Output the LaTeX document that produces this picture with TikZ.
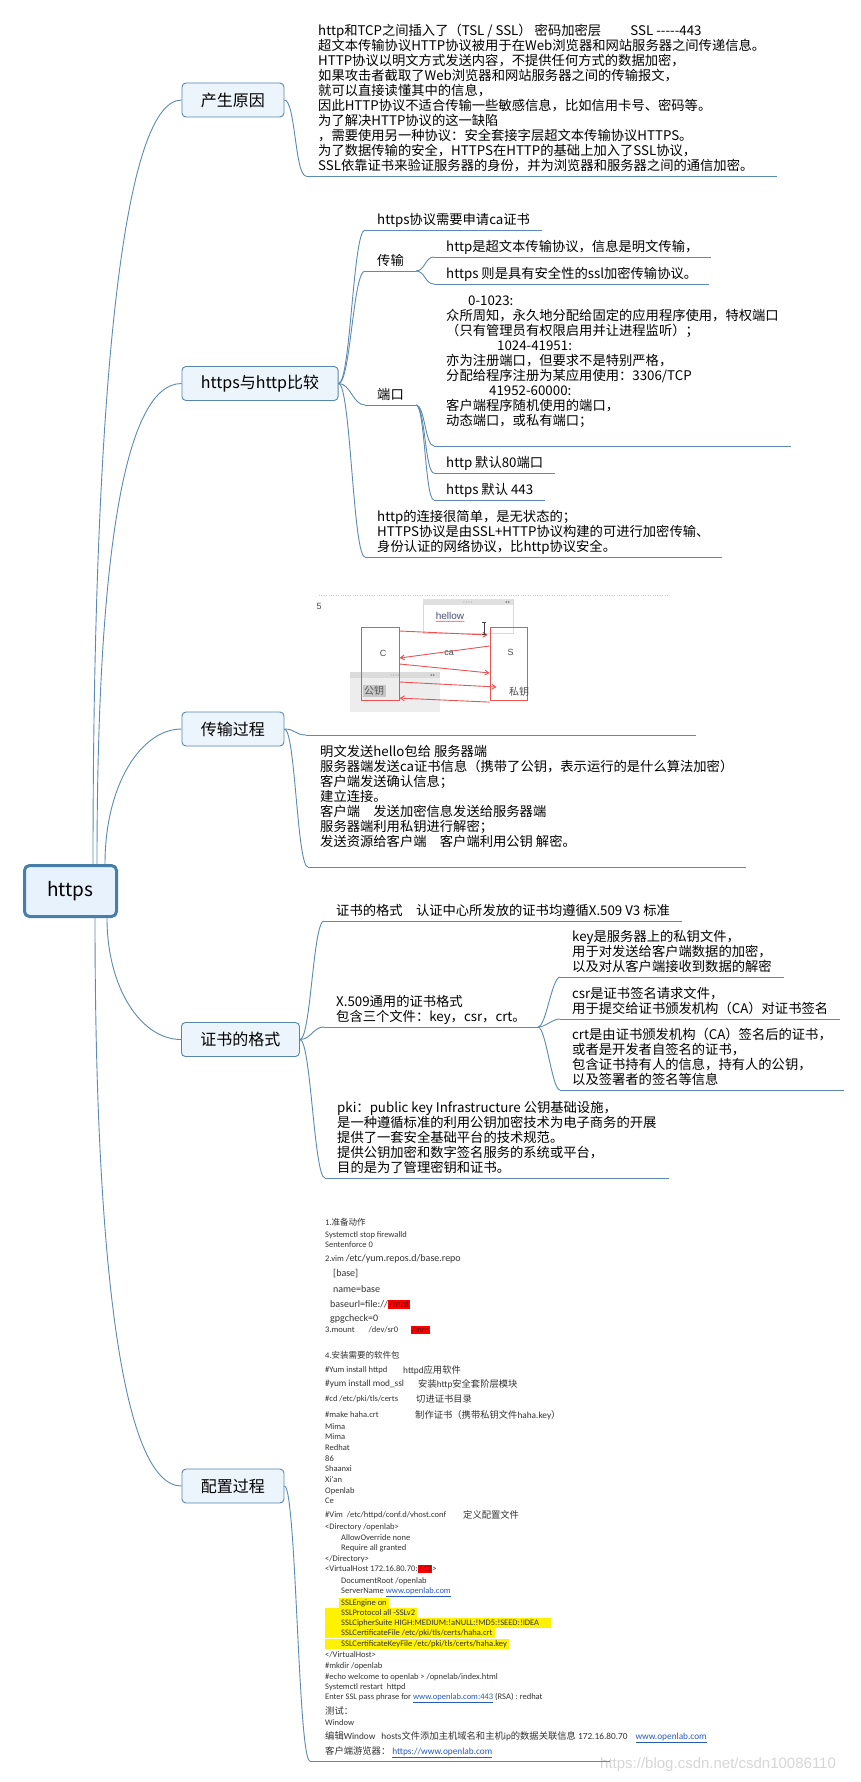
\documentclass[tikz,border=0pt]{standalone}
\usepackage{fontspec}
\setmainfont{Noto Sans CJK SC}
\newfontfamily\cjkfont{Noto Sans CJK SC}
\newfontfamily\cfgfont{Carlito}
\newfontfamily\markfont{Liberation Sans}
\usetikzlibrary{arrows.meta, calc, decorations.pathmorphing}

\definecolor{linkcol}{RGB}{92,138,178}
\definecolor{boxline}{RGB}{86,134,176}
\definecolor{boxfill}{RGB}{236,244,252}
\definecolor{rootline}{RGB}{72,127,168}
\definecolor{rootfill}{RGB}{232,242,252}
\definecolor{imgred}{RGB}{232,84,84}
\definecolor{hellocol}{RGB}{70,80,120}
\definecolor{linkblue}{RGB}{40,90,190}

\newcommand{\zhtext}[1]{{\cjkfont #1}}
\newcommand{\redmark}[1]{{\setlength{\fboxsep}{0.8pt}\colorbox{red}{\textcolor{red!45!black}{#1}}}}
\newcommand{\weblink}[1]{\textcolor{linkblue}{\underline{#1}}}
\newcommand{\cfglarge}{\fontsize{10}{11}\selectfont}
\newcommand{\cfgmid}{\fontsize{9.3}{10}\selectfont}

\begin{document}
\begin{tikzpicture}[x=1pt, y=-1pt,
		% boxes of the map
		rootbox/.style={draw=rootline, fill=rootfill, line width=3pt, rounded corners=5pt,
			minimum width=92pt, minimum height=51pt, font=\fontsize{19}{21}\selectfont},
		topic/.style={draw=boxline, fill=boxfill, line width=0.9pt, rounded corners=4pt,
			minimum height=34pt, inner xsep=19pt, anchor=west, font=\fontsize{16}{18}\selectfont},
		leaf/.style={anchor=south west, align=left, inner xsep=12pt, inner ysep=2pt,
			text depth=3pt, font=\fontsize{13.3}{15}\selectfont},
		% connectors
		branch/.style={draw=linkcol, line width=0.9pt},
		link/.style={to path={.. controls ($(\tikztostart)+(#1,0)$) and ($(\tikztotarget)+(-#1,0)$) .. (\tikztotarget)}},
		rootlink/.style 2 args={to path={.. controls ($(\tikztostart)+(0,#1)$) and ($(\tikztotarget)+(-#2,0)$) .. (\tikztotarget)}},
		% screenshot parts
		shot/.style={anchor=south west, inner sep=0pt},
		imgbox/.style={draw=imgred, line width=1.1pt, inner sep=0pt, anchor=north west},
		imgtxt/.style={inner sep=0pt, font=\markfont\fontsize{9}{10}\selectfont, text=black!70},
		imgarrow/.style={draw=imgred, line width=0.9pt, -{Straight Barb[length=4pt,width=5pt]}},
		cfgline/.style={anchor=west, inner sep=0pt, text=black!80, font=\cfgfont\fontsize{8.5}{9.5}\selectfont},
		cfgmark/.style={cfgline, fill=yellow, minimum height=10.6pt}
		]
		
		\fill[white] (0,0) rectangle (860,1782);
		\useasboundingbox (0,0) rectangle (860,1782);
		
		% --- ROOT AND MAIN TOPICS ---
		\node[rootbox] (root) at (70.5,891) {https};
		\node[topic] (cause) at (181.5,100) {产生原因};
		\node[topic] (cmp) at (181.5,383.5) {https与http比较};
		\node[topic] (trans) at (181.5,729) {传输过程};
		\node[topic] (cert) at (181,1039.5) {证书的格式};
		\node[topic] (conf) at (181.5,1486) {配置过程};
		
		\coordinate (rA) at ([xshift=22.5pt]root.north);
		\coordinate (rB) at ([xshift=26.5pt]root.north);
		\coordinate (rC) at ([xshift=34.5pt]root.north);
		\coordinate (rD) at ([xshift=36.5pt]root.south);
		\coordinate (rE) at ([xshift=24.5pt]root.south);
		\draw[branch] (rA) to[rootlink={-460}{60}] (cause.west);
		\draw[branch] (rB) to[rootlink={-290}{60}] (cmp.west);
		\draw[branch] (rC) to[rootlink={-80}{40}] (trans.west);
		\draw[branch] (rD) to[rootlink={70}{40}] (cert.west);
		\draw[branch] (rE) to[rootlink={340}{60}] (conf.west);
		
		% --- 1. CAUSE ---
		\node[leaf] (c1) at (306,176) {http和TCP之间插入了（TSL / SSL） 密码加密层\hspace{2.2em}SSL -{}-{}-{}-{}-443\\
			超文本传输协议HTTP协议被用于在Web浏览器和网站服务器之间传递信息。\\
			HTTP协议以明文方式发送内容，不提供任何方式的数据加密，\\
			如果攻击者截取了Web浏览器和网站服务器之间的传输报文，\\
			就可以直接读懂其中的信息，\\
			因此HTTP协议不适合传输一些敏感信息，比如信用卡号、密码等。\\
			为了解决HTTP协议的这一缺陷\\
			，需要使用另一种协议：安全套接字层超文本传输协议HTTPS。\\
			为了数据传输的安全，HTTPS在HTTP的基础上加入了SSL协议，\\
			SSL依靠证书来验证服务器的身份，并为浏览器和服务器之间的通信加密。};
		\draw[branch] (cause.east) to[link=11] (c1.south west);
		
		% --- 2. HTTPS VS HTTP ---
		\node[leaf] (h1) at (365,230) {https协议需要申请ca证书};
		\node[leaf] (h2) at (365,271) {传输};
		\node[leaf] (h21) at (434,257) {http是超文本传输协议，信息是明文传输，};
		\node[leaf] (h22) at (434,284) {https 则是具有安全性的ssl加密传输协议。};
		\node[leaf] (h3) at (365,405) {端口};
		\node[leaf] (h31) at (434,446) {\hspace*{22pt}0-1023:\\
			众所周知，永久地分配给固定的应用程序使用，特权端口\\
			（只有管理员有权限启用并让进程监听）；\\
			\hspace*{51pt}1024-41951:\\
			亦为注册端口，但要求不是特别严格，\\
			分配给程序注册为某应用使用：3306/TCP\\
			\hspace*{43pt}41952-60000:\\
			客户端程序随机使用的端口，\\
			动态端口，或私有端口；\\
			~};
		\node[leaf] (h32) at (434,473) {http 默认80端口};
		\node[leaf] (h33) at (434,500) {https 默认 443};
		\node[leaf] (h4) at (365,557) {http的连接很简单，是无状态的；\\
			HTTPS协议是由SSL+HTTP协议构建的可进行加密传输、\\
			身份认证的网络协议，比http协议安全。};
		\foreach \n in {h1,h2,h3,h4} \draw[branch] (cmp.east) to[link=12] (\n.south west);
		\foreach \n in {h21,h22} \draw[branch] (h2.south east) to[link=9] (\n.south west);
		\foreach \n in {h31,h32,h33} \draw[branch] (h3.south east) to[link=9] (\n.south west);
		
		% --- 3. TRANSFER: screenshot of the handshake ---
		\node[shot, minimum width=390pt, minimum height=140pt] (t1) at (306,735) {};
		\draw[black!22, dotted] (319,595) -- (668,595);
		\node[imgtxt] (five) at (319,606) {5};
		\node[draw=black!15, fill=white, minimum width=89.5pt, minimum height=34pt, inner sep=0pt, anchor=north west] (hwin) at (423,599) {};
		\fill[black!12] (hwin.north west) rectangle ($(hwin.north east)+(0,6)$);
		\foreach \i in {0,...,3} \fill[black!45] ($(hwin.north)+(-4+\i*2.5,3)$) circle (0.5pt);
		\fill[black!45] (505,602) -- (507,600.8) -- (507,603.2) -- cycle;
		\fill[black!45] (510,602) -- (508,600.8) -- (508,603.2) -- cycle;
		\node[imgtxt, text=hellocol, font=\markfont\fontsize{10}{11}\selectfont] (hello) at (450,616) {hellow};
		\draw[imgred, decorate, decoration={snake, amplitude=0.5pt, segment length=2.2pt}] ($(hello.south west)+(0,1.5)$) -- ($(hello.south east)+(0,1.5)$);
		\node[fill=black!7, minimum width=90pt, minimum height=40pt, inner sep=0pt, anchor=north west] (kwin) at (350,672) {};
		\fill[black!14] (kwin.north west) rectangle ($(kwin.north east)+(0,6)$);
		\foreach \i in {0,...,3} \fill[black!45] ($(kwin.north)+(-4+\i*2.5,3)$) circle (0.5pt);
		\fill[black!45] (430,675) -- (432,673.8) -- (432,676.2) -- cycle;
		\fill[black!45] (435,675) -- (433,673.8) -- (433,676.2) -- cycle;
		\node[imgbox, minimum width=37.5pt, minimum height=73pt] (cbox) at (361,627) {};
		\node[imgbox, minimum width=37pt, minimum height=73pt] (sbox) at (489.6,627) {};
		\node[fill=black!22, inner sep=1.5pt, text=black!65, font=\fontsize{10}{11}\selectfont] (pub) at (374,691) {公钥};
		\node[imgtxt] (cl) at (383,653) {C};
		\node[imgtxt] (sl) at (510.6,652) {S};
		\node[imgtxt] (cal) at (449,653) {ca};
		\node[imgtxt, font=\fontsize{10}{11}\selectfont] (priv) at (519,692) {私钥};
		\draw[imgarrow] ($(cbox.north east)+(0,4)$) -- ($(sbox.north west)+(-2,8)$);
		\draw[imgarrow] ($(sbox.north west)+(0,19)$) -- ($(cbox.north east)+(0,31)$);
		\draw[imgarrow] ($(cbox.north east)+(0,37)$) -- ($(sbox.north west)+(0,46)$);
		\draw[imgarrow] ($(cbox.north east)+(0,55)$) -- ($(sbox.north west)+(7,60)$);
		\draw[imgarrow] ($(sbox.south west)+(0,1)$) -- ($(cbox.south east)+(0,-3)$);
		\draw[black!75, line width=0.6pt] (484,622) -- (484,634) (482,622) -- (486,622) (482,634) -- (486,634);
		
		\node[leaf] (t2) at (308,867) {明文发送hello包给 服务器端\\
			服务器端发送ca证书信息（携带了公钥，表示运行的是什么算法加密）\\
			客户端发送确认信息；\\
			建立连接。\\
			客户端　发送加密信息发送给服务器端\\
			服务器端利用私钥进行解密；\\
			发送资源给客户端　客户端利用公钥 解密。\\
			~};
		\foreach \n in {t1,t2} \draw[branch] (trans.east) to[link=11] (\n.south west);
		
		% --- 4. CERTIFICATE FORMAT ---
		\node[leaf] (k1) at (324,921) {证书的格式　认证中心所发放的证书均遵循X.509 V3 标准};
		\node[leaf] (k2) at (324,1027) {X.509通用的证书格式\\包含三个文件：key，csr，crt。};
		\node[leaf] (k21) at (560,977) {key是服务器上的私钥文件，\\用于对发送给客户端数据的加密，\\以及对从客户端接收到数据的解密};
		\node[leaf] (k22) at (560,1019) {csr是证书签名请求文件，\\用于提交给证书颁发机构（CA）对证书签名};
		\node[leaf] (k23) at (560,1090) {crt是由证书颁发机构（CA）签名后的证书，\\或者是开发者自签名的证书，\\包含证书持有人的信息，持有人的公钥，\\以及签署者的签名等信息};
		\node[leaf] (k3) at (325,1178) {pki：public key Infrastructure 公钥基础设施，\\
			是一种遵循标准的利用公钥加密技术为电子商务的开展\\
			提供了一套安全基础平台的技术规范。\\
			提供公钥加密和数字签名服务的系统或平台，\\
			目的是为了管理密钥和证书。};
		\foreach \n in {k1,k2,k3} \draw[branch] (cert.east) to[link=11] (\n.south west);
		\foreach \n in {k21,k22,k23} \draw[branch] (k2.south east) to[link=8] (\n.south west);
		
		% --- 5. CONFIGURATION: screenshot of the steps ---
		\node[shot, minimum width=300pt, minimum height=555pt] (f1) at (310,1761) {};
		\foreach \x/\y/\cfgtxt [count=\i] in {
			325/1222/{1.\zhtext{准备动作}},
			325/1235/{Systemctl stop firewalld},
			325/1245/{Sentenforce 0},
			325/1259/{2.vim {\cfglarge /etc/yum.repos.d/base.repo}},
			333/1274/{\cfglarge [base]},
			333/1289/{\cfglarge name=base},
			330/1304/{\cfglarge baseurl=file://\redmark{/mnt}},
			330/1319/{\cfglarge gpgcheck=0},
			325/1330/{3.mount\hspace{14pt}/dev/sr0\hspace{13pt}\redmark{/mnt}},
			325/1355/{4.\zhtext{安装需要的软件包}},
			325/1370/{\#Yum install httpd},
			403/1370/{\cfgmid httpd\zhtext{应用软件}},
			325/1384/{\cfgmid \#yum install mod\_ssl},
			418/1384/{\cfgmid \zhtext{安装}http\zhtext{安全套阶层模块}},
			325/1399/{\#cd /etc/pki/tls/certs},
			416/1399/{\cfgmid \zhtext{切进证书目录}},
			325/1415/{\#make haha.crt},
			415/1415/{\cfgmid \zhtext{制作证书（携带私钥文件}haha.key\zhtext{）}},
			325/1427/{Mima},
			325/1437/{Mima},
			325/1448/{Redhat},
			325/1459/{86},
			325/1469/{Shaanxi},
			325/1480/{Xi'an},
			325/1491/{Openlab},
			325/1501/{Ce},
			325/1515/{\#Vim\hspace{4pt}/etc/httpd/conf.d/vhost.conf},
			463/1515/{\cfgmid \zhtext{定义配置文件}},
			325/1527/{<Directory /openlab>},
			341/1538/{AllowOverride none},
			341/1548/{Require all granted},
			325/1559/{</Directory>},
			325/1569/{<VirtualHost 172.16.80.70:\redmark{443}>},
			341/1581/{DocumentRoot /openlab},
			341/1592/{ServerName \weblink{www.openlab.com}},
			325/1655/{</VirtualHost>},
			325/1666/{\#mkdir /openlab},
			325/1677/{\#echo welcome to openlab > /opnelab/index.html},
			325/1687/{Systemctl restart\ \ httpd},
			325/1698/{Enter SSL pass phrase for \weblink{www.openlab.com:443} (RSA) : redhat},
			325/1711/{\cfgmid \zhtext{测试：}},
			325/1723/{Window},
			325/1737/{\cfgmid \zhtext{编辑}Window\hspace{6pt}hosts\zhtext{文件添加主机域名和主机}ip\zhtext{的数据关联信息} 172.16.80.70\hspace{8pt}\weblink{www.openlab.com}},
			325/1752/{\cfgmid \zhtext{客户端游览器：} \weblink{https://www.openlab.com}}}
		\node[cfgline] (cfg\i) at (\x,\y) {\cfgtxt};
		\node[cfgmark] (ssl1) at (339,1603) {\hspace*{2pt}SSLEngine on\hspace*{2pt}};
		\node[cfgmark] (ssl2) at (325,1613) {\hspace*{16pt}SSLProtocol all -SSLv2\hspace*{2pt}};
		\node[cfgmark] (ssl3) at (325,1623) {\hspace*{16pt}SSLCipherSuite HIGH:MEDIUM:!aNULL:!MD5:!SEED:!IDEA\hspace*{12pt}};
		\node[cfgmark] (ssl4) at (325,1633) {\hspace*{16pt}SSLCertificateFile /etc/pki/tls/certs/haha.crt\hspace*{2pt}};
		\node[cfgmark] (ssl5) at (325,1644) {\hspace*{16pt}SSLCertificateKeyFile /etc/pki/tls/certs/haha.key\hspace*{2pt}};
		\draw[branch] (conf.east) to[link=12] (f1.south west);
		\node[anchor=west, inner sep=0pt, text=black!16, font=\markfont\fontsize{15}{16}\selectfont] (mark) at (600,1765) {https://blog.csdn.net/csdn10086110};
		
		% --- UNDERLINES OF THE TOPICS ---
		\foreach \n in {c1,h1,h2,h21,h22,h3,h31,h32,h33,h4,t1,t2,k1,k2,k21,k22,k23,k3,f1}
		\draw[branch] (\n.south west) -- (\n.south east);
		
	\end{tikzpicture}
\end{document}
